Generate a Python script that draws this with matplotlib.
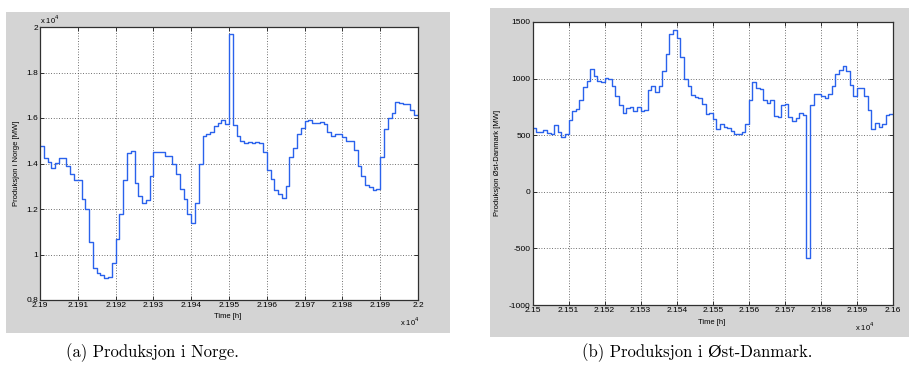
import numpy as np
import matplotlib
matplotlib.use('Agg')
import matplotlib.pyplot as plt
from matplotlib.patches import Rectangle
from matplotlib.ticker import FuncFormatter, MultipleLocator

plt.rcParams['axes.unicode_minus'] = False

# hourly production, Norway (MW), starting at hour 21900
norge_start = 21900
norge_mw = [14770, 14260, 14080, 13820, 14030, 14260, 14260, 13910, 13560, 13290,
            13290, 12460, 12020, 10530, 9410, 9170, 9120, 8970, 9020, 9630,
            10700, 11800, 13290, 14440, 14550, 13150, 12580, 12270, 12390, 13440,
            14490, 14490, 14490, 14350, 14350, 14000, 13550, 12900, 12450, 11800,
            11400, 12250, 14000, 15200, 15300, 15400, 15650, 15800, 15900, 15750,
            19700, 15700, 15200, 15000, 14900, 14950, 14880, 14950, 14900, 14500,
            13700, 13300, 12850, 12650, 12500, 13000, 14300, 14700, 15300, 15550,
            15850, 15920, 15800, 15800, 15830, 15750, 15400, 15200, 15300, 15300,
            15150, 15000, 15000, 14600, 13900, 13450, 13050, 12950, 12850, 12900,
            14300, 15500, 16000, 16200, 16700, 16650, 16620, 16620, 16360, 16150]

# hourly production, East Denmark (MW), starting at hour 21500
dk_start = 21500
dk_mw = [565, 530, 530, 550, 521, 509, 594, 529, 482, 512,
         632, 712, 732, 815, 929, 982, 1085, 1026, 982, 968,
         1009, 997, 935, 847, 768, 700, 738, 750, 712, 750,
         718, 726, 897, 935, 879, 935, 1068, 1215, 1391, 1432,
         1359, 1191, 997, 935, 856, 835, 829, 776, 685, 697,
         641, 559, 600, 574, 568, 538, 509, 509, 532, 600,
         809, 968, 921, 909, 812, 782, 812, 674, 659, 771,
         774, 665, 624, 656, 700, 682, -588, 768, 862, 862,
         847, 832, 865, 935, 1044, 1076, 1115, 1068, 944, 847,
         915, 915, 847, 721, 559, 609, 571, 600, 682, 688]

captions = ['(a) Produksjon i Norge.', '(b) Produksjon i Øst-Danmark.']
ylabels = ['Produksjon i Norge [MW]', 'Produksjon Øst-Danmark [MW]']

W, H = 909, 376
fig = plt.figure(figsize=(W / 100, H / 100), dpi=100)
fig.patch.set_facecolor('white')

tickfont = 'Liberation Sans'
gray = '#d4d4d4'
blue = '#2a62ec'

def px(x0, y0, x1, y1):
    # pixel box (top-left origin) -> figure fraction [l, b, w, h]
    return [x0 / W, 1 - y1 / H, (x1 - x0) / W, (y1 - y0) / H]

for box in [(6, 12, 450, 333), (490, 8, 909, 337)]:
    l, b, w, h = px(*box)
    fig.patches.append(Rectangle((l, b), w, h, transform=fig.transFigure,
                                 facecolor=gray, edgecolor='none', zorder=-5))

def style_axes(ax):
    ax.set_facecolor('white')
    for s in ax.spines.values():
        s.set_color('#303030')
        s.set_linewidth(0.9)
    ax.grid(True, linestyle=(0, (1, 2.2)), color='#404040', linewidth=0.6)
    ax.tick_params(direction='in', length=3, width=0.7, top=True, right=True,
                   labelsize=6, pad=1.5, colors='#303030', labelcolor='black')
    for lab in ax.get_xticklabels() + ax.get_yticklabels():
        lab.set_family(tickfont)

sci = FuncFormatter(lambda v, p: '%g' % (v / 1e4))

# --- Norge ---
ax1 = fig.add_axes(px(40, 27, 418, 300))
t1 = norge_start + np.arange(len(norge_mw) + 1)
ax1.step(t1, norge_mw + [norge_mw[-1]], where='post', color=blue, lw=1.0)
ax1.set_xlim(21900, 22000)
ax1.set_ylim(8000, 20000)
ax1.xaxis.set_major_locator(MultipleLocator(10))
ax1.yaxis.set_major_locator(MultipleLocator(2000))
ax1.xaxis.set_major_formatter(sci)
ax1.yaxis.set_major_formatter(sci)
style_axes(ax1)
ax1.set_axisbelow(True)

# --- Øst-Danmark ---
ax2 = fig.add_axes(px(532.5, 22, 893, 305))
t2 = dk_start + np.arange(len(dk_mw) + 1)
ax2.step(t2, dk_mw + [dk_mw[-1]], where='post', color=blue, lw=1.0)
ax2.set_xlim(21500, 21600)
ax2.set_ylim(-1000, 1500)
ax2.xaxis.set_major_locator(MultipleLocator(10))
ax2.yaxis.set_major_locator(MultipleLocator(500))
ax2.xaxis.set_major_formatter(sci)
style_axes(ax2)
ax2.set_axisbelow(True)

small = dict(family=tickfont, fontsize=5.5, color='black')
fig.text(17 / W, 1 - 163 / H, ylabels[0], rotation=90, ha='center', va='center', **small)
fig.text(498 / W, 1 - 163 / H, ylabels[1], rotation=90, ha='center', va='center', **small)
fig.text(228 / W, 1 - 317 / H, 'Time [h]', ha='center', va='center', **small)
fig.text(712 / W, 1 - 322 / H, 'Time [h]', ha='center', va='center', **small)
fig.text(400 / W, 1 - 322 / H, r'x 10$^{4}$', ha='left', va='center', **small)
fig.text(855 / W, 1 - 327 / H, r'x 10$^{4}$', ha='left', va='center', **small)
fig.text(40 / W, 1 - 20 / H, r'x 10$^{4}$', ha='left', va='center', **small)

capfont = ['cmr10', 'DejaVu Serif']
fig.text(152 / W, 1 - 353 / H, captions[0], ha='center', va='center',
         family=capfont, fontsize=12)
fig.text(697 / W, 1 - 353 / H, captions[1], ha='center', va='center',
         family=capfont, fontsize=12)

fig.savefig('out.png', dpi=100, facecolor='white')
